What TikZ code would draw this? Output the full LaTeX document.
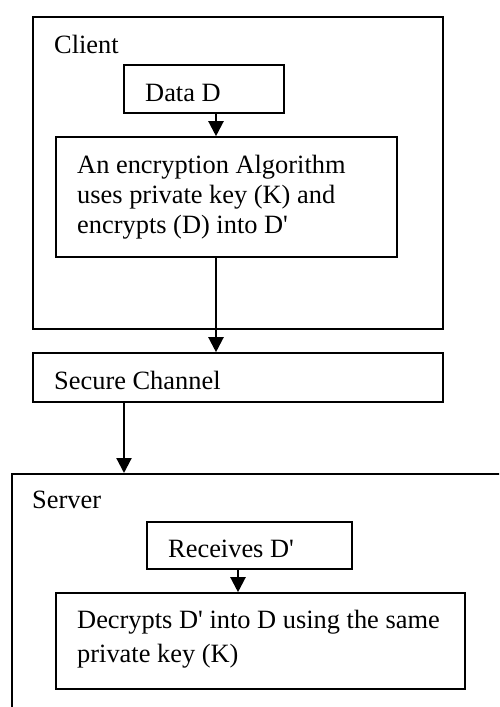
\documentclass[tikz,border=0pt]{standalone}
\usepackage{fontspec}
\setmainfont{Liberation Serif}[Ligatures=TeXOff]
\usetikzlibrary{arrows.meta}
\begin{document}
\begin{tikzpicture}[x=1pt,y=-1pt,
  box/.style={draw,line width=1.6pt,inner sep=0pt},
  lbl/.style={inner sep=0pt,anchor=base west,align=left,
    font=\fontsize{26.4}{30}\selectfont},
  arr/.style={line width=2.2pt,-{Triangle[width=15pt,length=15pt]}}]
  \useasboundingbox (0,0) rectangle (499,707);
  \clip (0,0) rectangle (499,707);

  % client side
  \node[box,minimum width=410pt,minimum height=312pt] (client) at (238,173) {};
  \node[lbl] (clienttxt) at (54,53) {Client};
  \node[box,minimum width=160pt,minimum height=48pt] (datad) at (204,89) {};
  \node[lbl] (datadtxt) at (145,101) {Data D};
  \node[box,minimum width=341pt,minimum height=120pt] (enc) at (226.5,197) {};
  % base of a multi-line label is its last line
  \node[lbl] (enctxt) at (77,233) {An encryption Algorithm\\uses private key (K) and\\encrypts (D) into D'};

  % channel
  \node[box,minimum width=410pt,minimum height=49pt] (chan) at (238,377.5) {};
  \node[lbl] (chantxt) at (54,389) {Secure Channel};

  % server side (runs past the page edge)
  \node[box,minimum width=530pt,minimum height=300pt,anchor=north west] (server) at (11,473) {};
  \node[lbl] (servertxt) at (32,508) {Server};
  \node[box,minimum width=205pt,minimum height=47pt] (recv) at (249.5,545.5) {};
  \node[lbl] (recvtxt) at (168,557) {Receives D'};
  \node[box,minimum width=409pt,minimum height=96pt] (dec) at (260.5,641) {};
  \node[lbl,font=\fontsize{26.4}{34}\selectfont] (dectxt) at (77,662) {Decrypts D' into D using the same\\private key (K)};

  % connectors
  \draw[arr] ([xshift=12pt]datad.south) -- ([xshift=12pt]datad.south |- enc.north);
  \draw[arr] ([xshift=-10.5pt]enc.south) -- ([xshift=-10.5pt]enc.south |- chan.north);
  \draw[arr] ([xshift=-114pt]chan.south) -- ([xshift=-114pt]chan.south |- server.north);
  \draw[arr] ([xshift=-11.5pt]recv.south) -- ([xshift=-11.5pt]recv.south |- dec.north);
\end{tikzpicture}
\end{document}
